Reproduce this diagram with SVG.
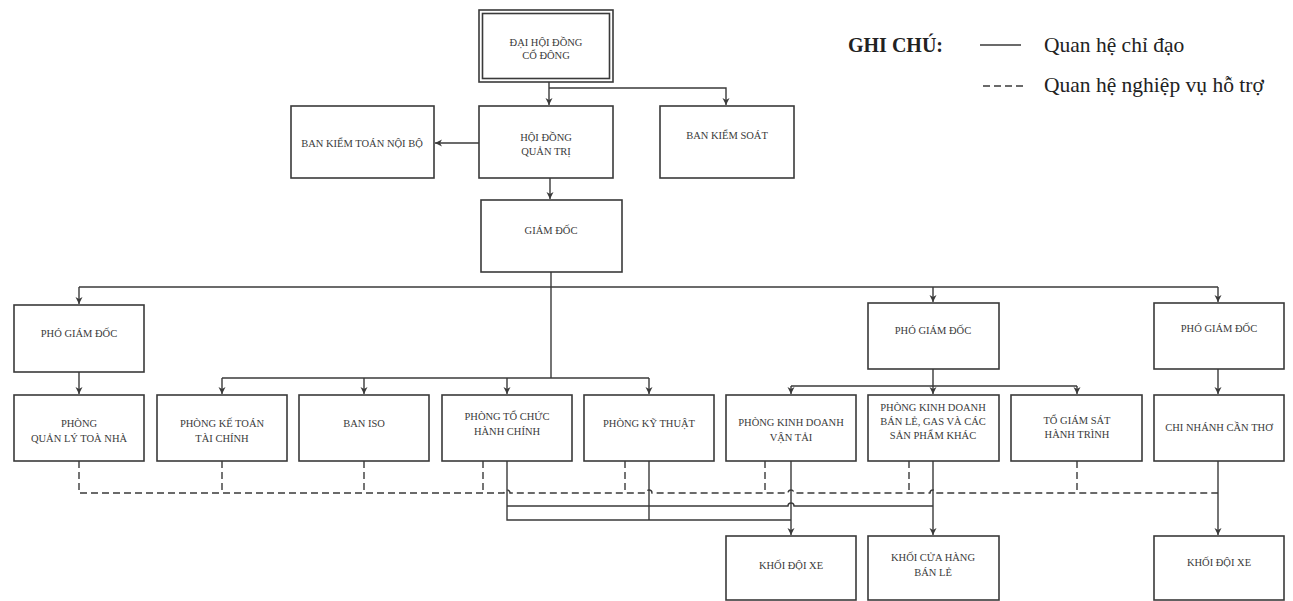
<svg xmlns="http://www.w3.org/2000/svg" width="1293" height="601" viewBox="0 0 1293 601">
<defs>
<style>
.box{fill:#fff;stroke:#3a3a3a;stroke-width:1.6}
.t{font-family:"Liberation Serif","Times New Roman",serif;font-size:10.5px;fill:#3a3a3a;text-anchor:middle}
.ln{fill:none;stroke:#3a3a3a;stroke-width:1.4}
.ds{fill:none;stroke:#3a3a3a;stroke-width:1.4;stroke-dasharray:7 4}
.lg{font-family:"Liberation Serif","Times New Roman",serif;font-size:21.5px;fill:#222}
.lgb{font-family:"Liberation Serif","Times New Roman",serif;font-size:20px;font-weight:bold;fill:#222}
</style>
<marker id="ar" markerUnits="userSpaceOnUse" markerWidth="9" markerHeight="9" refX="7" refY="4" orient="auto">
<path d="M0,0.5 L7,4 L0,7.5 L2,4 z" fill="#3a3a3a"/>
</marker>
</defs>
<rect width="1293" height="601" fill="#fff"/>

<g id="connectors">
<path class="ln" d="M549 82 V105" marker-end="url(#ar)"/>
<path class="ln" d="M549 88 H726 V105" marker-end="url(#ar)"/>
<path class="ln" d="M479 143 H435" marker-end="url(#ar)"/>
<path class="ln" d="M550 178 V199" marker-end="url(#ar)"/>
<path class="ln" d="M551 272 V378"/>
<path class="ln" d="M79 287 H1218"/>
<path class="ln" d="M79 287 V304" marker-end="url(#ar)"/>
<path class="ln" d="M933 287 V302" marker-end="url(#ar)"/>
<path class="ln" d="M1218 287 V302" marker-end="url(#ar)"/>
<path class="ln" d="M222 378 H649"/>
<path class="ln" d="M222 378 V394" marker-end="url(#ar)"/>
<path class="ln" d="M364 378 V394" marker-end="url(#ar)"/>
<path class="ln" d="M507 378 V394" marker-end="url(#ar)"/>
<path class="ln" d="M649 378 V394" marker-end="url(#ar)"/>
<path class="ln" d="M79 372 V394" marker-end="url(#ar)"/>
<path class="ln" d="M933 369 V386"/>
<path class="ln" d="M791 386 H1077"/>
<path class="ln" d="M791 386 V394" marker-end="url(#ar)"/>
<path class="ln" d="M933 386 V394" marker-end="url(#ar)"/>
<path class="ln" d="M1077 386 V394" marker-end="url(#ar)"/>
<path class="ln" d="M1218 369 V394" marker-end="url(#ar)"/>
<path class="ln" d="M1218 461 V535" marker-end="url(#ar)"/>
<path class="ln" d="M791 461 V535" marker-end="url(#ar)"/>
<path class="ln" d="M933 461 V535" marker-end="url(#ar)"/>
<path class="ln" d="M507 461 V520 H791"/>
<path class="ln" d="M649 461 V520"/>
<path class="ln" d="M507 506 H788 a3 3 0 0 1 6 0 H933"/>
<path class="ds" d="M79 461 V493 H504 a3 3 0 0 1 6 0 H646 a3 3 0 0 1 6 0 H788 a3 3 0 0 1 6 0 H930 a3 3 0 0 1 6 0 H1218"/>
<path class="ds" d="M222 461 V493 M364 461 V493 M483 461 V493 M625 461 V493 M765 461 V493 M909 461 V493 M1077 461 V493"/>
</g>

<g id="dai-hoi-dong-co-dong">
<rect class="box" x="479" y="10" width="134" height="72"/>
<rect class="box" x="482.5" y="13.5" width="127" height="65"/>
<text class="t" x="546" y="45.5">ĐẠI HỘI ĐỒNG</text>
<text class="t" x="546" y="59">CỔ ĐÔNG</text>
</g>
<g id="hoi-dong-quan-tri">
<rect class="box" x="479" y="106" width="134" height="72"/>
<text class="t" x="546" y="140.5">HỘI ĐỒNG</text>
<text class="t" x="546" y="155">QUẢN TRỊ</text>
</g>
<g id="ban-kiem-toan-noi-bo">
<rect class="box" x="291" y="106" width="143" height="72"/>
<text class="t" x="362" y="146.5">BAN KIỂM TOÁN NỘI BỘ</text>
</g>
<g id="ban-kiem-soat">
<rect class="box" x="660" y="106" width="134" height="72"/>
<text class="t" x="727" y="138.5">BAN KIỂM SOÁT</text>
</g>
<g id="giam-doc">
<rect class="box" x="481" y="200" width="141" height="72"/>
<text class="t" x="551" y="233.5">GIÁM ĐỐC</text>
</g>
<g id="pgd-1">
<rect class="box" x="14" y="305" width="130" height="67"/>
<text class="t" x="79" y="336.5">PHÓ GIÁM ĐỐC</text>
</g>
<g id="pgd-2">
<rect class="box" x="868" y="303" width="131" height="66"/>
<text class="t" x="933" y="333.5">PHÓ GIÁM ĐỐC</text>
</g>
<g id="pgd-3">
<rect class="box" x="1154" y="303" width="130" height="66"/>
<text class="t" x="1219" y="331.5">PHÓ GIÁM ĐỐC</text>
</g>
<g id="phong-quan-ly-toa-nha">
<rect class="box" x="14" y="395" width="130" height="66"/>
<text class="t" x="79" y="426.5">PHÒNG</text>
<text class="t" x="79" y="441.5">QUẢN LÝ TOÀ NHÀ</text>
</g>
<g id="phong-ke-toan">
<rect class="box" x="157" y="395" width="130" height="66"/>
<text class="t" x="222" y="426.5">PHÒNG KẾ TOÁN</text>
<text class="t" x="222" y="441.5">TÀI CHÍNH</text>
</g>
<g id="ban-iso">
<rect class="box" x="299" y="395" width="130" height="66"/>
<text class="t" x="364" y="426.5">BAN ISO</text>
</g>
<g id="phong-to-chuc">
<rect class="box" x="442" y="395" width="130" height="66"/>
<text class="t" x="507" y="419.5">PHÒNG TỔ CHỨC</text>
<text class="t" x="507" y="434.5">HÀNH CHÍNH</text>
</g>
<g id="phong-ky-thuat">
<rect class="box" x="584" y="395" width="130" height="66"/>
<text class="t" x="649" y="426.5">PHÒNG KỸ THUẬT</text>
</g>
<g id="phong-kd-van-tai">
<rect class="box" x="726" y="395" width="130" height="66"/>
<text class="t" x="791" y="425.5">PHÒNG KINH DOANH</text>
<text class="t" x="791" y="440.5">VẬN TẢI</text>
</g>
<g id="phong-kd-ban-le">
<rect class="box" x="868" y="395" width="131" height="66"/>
<text class="t" x="933" y="410.5">PHÒNG KINH DOANH</text>
<text class="t" x="933" y="424.5">BÁN LẺ, GAS VÀ CÁC</text>
<text class="t" x="933" y="438.5">SẢN PHẨM KHÁC</text>
</g>
<g id="to-giam-sat">
<rect class="box" x="1011" y="395" width="131" height="66"/>
<text class="t" x="1077" y="423.5">TỔ GIÁM SÁT</text>
<text class="t" x="1077" y="437.5">HÀNH TRÌNH</text>
</g>
<g id="chi-nhanh-can-tho">
<rect class="box" x="1154" y="395" width="130" height="66"/>
<text class="t" x="1219" y="430.5">CHI NHÁNH CẦN THƠ</text>
</g>
<g id="khoi-doi-xe-1">
<rect class="box" x="726" y="536" width="130" height="64"/>
<text class="t" x="791" y="568.5">KHỐI ĐỘI XE</text>
</g>
<g id="khoi-cua-hang">
<rect class="box" x="868" y="536" width="131" height="64"/>
<text class="t" x="933" y="560.5">KHỐI CỬA HÀNG</text>
<text class="t" x="933" y="575.5">BÁN LẺ</text>
</g>
<g id="khoi-doi-xe-2">
<rect class="box" x="1154" y="536" width="130" height="64"/>
<text class="t" x="1219" y="565.5">KHỐI ĐỘI XE</text>
</g>

<g id="legend">
<text class="lgb" x="848" y="52">GHI CHÚ:</text>
<path class="ln" d="M980 45 H1021"/>
<text class="lg" x="1044" y="52">Quan hệ chỉ đạo</text>
<path class="ds" d="M983 86 H1023" stroke-dasharray="5 2"/>
<text class="lg" x="1044" y="92">Quan hệ nghiệp vụ hỗ trợ</text>
</g>
</svg>
